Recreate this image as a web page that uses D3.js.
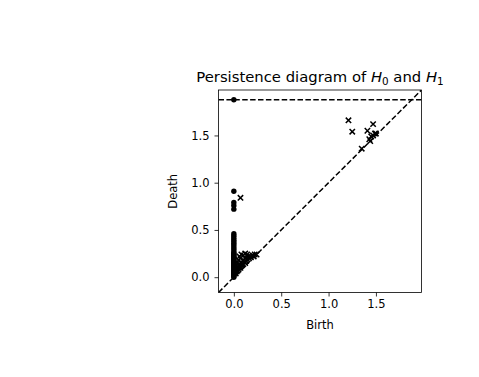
<!DOCTYPE html>
<html>
<head>
<meta charset="utf-8">
<script src="https://cdn.jsdelivr.net/npm/d3@7"></script>
<style>
  body { margin: 0; background: #fff; }
  svg { font-family: "DejaVu Sans", sans-serif; }
</style>
</head>
<body>
<div id="chart"></div>
<script>
// --- data ---
const h0Deaths = [0.00, 0.01, 0.02, 0.03, 0.04, 0.05, 0.06, 0.07, 0.08, 0.09, 0.10, 0.11, 0.12,
    0.13, 0.14, 0.15, 0.16, 0.17, 0.18, 0.19, 0.20, 0.21, 0.22, 0.23, 0.24, 0.25, 0.26, 0.28,
    0.30, 0.32, 0.34, 0.36, 0.38, 0.40, 0.42, 0.44, 0.46, 0.72, 0.76, 0.79, 0.91];
const h0InfiniteBirths = [0.0];
const infLevel = 1.878;

const h1Pairs = [
    [0.01, 0.05], [0.02, 0.04], [0.02, 0.09], [0.03, 0.06], [0.03, 0.12], [0.04, 0.07],
    [0.04, 0.15], [0.05, 0.08], [0.05, 0.10], [0.05, 0.18], [0.06, 0.12], [0.06, 0.22],
    [0.07, 0.10], [0.07, 0.20], [0.08, 0.12], [0.08, 0.15], [0.08, 0.24], [0.09, 0.13],
    [0.10, 0.14], [0.10, 0.18], [0.10, 0.23], [0.11, 0.16], [0.12, 0.15], [0.12, 0.20],
    [0.12, 0.25], [0.13, 0.17], [0.14, 0.19], [0.14, 0.24], [0.15, 0.22], [0.16, 0.20],
    [0.17, 0.22], [0.18, 0.21], [0.20, 0.23], [0.21, 0.22], [0.22, 0.24], [0.24, 0.24],
    [0.07, 0.84],
    [1.21, 1.66], [1.25, 1.54], [1.41, 1.55], [1.47, 1.62], [1.35, 1.36], [1.43, 1.46],
    [1.45, 1.49], [1.49, 1.52], [1.50, 1.52], [1.47, 1.50], [1.44, 1.44]
];

const xTicks = [0.0, 0.5, 1.0, 1.5];
const yTicks = [0.0, 0.5, 1.0, 1.5];
const axisDomain = [-0.162, 1.981];

// --- layout ---
const width = 479, height = 377;
const plot = { left: 218.5, right: 421.5, top: 90, bottom: 292.5 };

const svg = d3.select("#chart").append("svg")
    .attr("width", width)
    .attr("height", height);

const x = d3.scaleLinear().domain(axisDomain).range([plot.left, plot.right]);
const y = d3.scaleLinear().domain(axisDomain).range([plot.bottom, plot.top]);

svg.append("clipPath").attr("id", "clip")
    .append("rect")
    .attr("x", plot.left).attr("y", plot.top)
    .attr("width", plot.right - plot.left).attr("height", plot.bottom - plot.top);

const g = svg.append("g").attr("clip-path", "url(#clip)");

// diagonal and infinity line
g.append("line")
    .attr("x1", x(axisDomain[0])).attr("y1", y(axisDomain[0]))
    .attr("x2", x(axisDomain[1])).attr("y2", y(axisDomain[1]))
    .attr("stroke", "#000").attr("stroke-width", 1.5)
    .attr("stroke-dasharray", "5.5,2.4");

g.append("line")
    .attr("x1", x(axisDomain[0])).attr("y1", y(infLevel))
    .attr("x2", x(axisDomain[1])).attr("y2", y(infLevel))
    .attr("stroke", "#000").attr("stroke-width", 1.5)
    .attr("stroke-dasharray", "5.5,2.4");

// H1 crosses
const cs = 2.7;
g.selectAll(".h1").data(h1Pairs).enter().append("path")
    .attr("class", "h1")
    .attr("d", `M${-cs},${-cs}L${cs},${cs}M${-cs},${cs}L${cs},${-cs}`)
    .attr("transform", d => `translate(${x(d[0])},${y(d[1])})`)
    .attr("stroke", "#000").attr("stroke-width", 1.5).attr("fill", "none");

// H0 dots
g.selectAll(".h0").data(h0Deaths).enter().append("circle")
    .attr("class", "h0")
    .attr("cx", x(0)).attr("cy", d => y(d))
    .attr("r", 2.7).attr("fill", "#000");

g.selectAll(".h0inf").data(h0InfiniteBirths).enter().append("circle")
    .attr("class", "h0inf")
    .attr("cx", d => x(d)).attr("cy", y(infLevel))
    .attr("r", 2.7).attr("fill", "#000");

// frame
svg.append("rect")
    .attr("x", plot.left).attr("y", plot.top)
    .attr("width", plot.right - plot.left).attr("height", plot.bottom - plot.top)
    .attr("fill", "none").attr("stroke", "#000").attr("stroke-width", 0.8);

// axes
const xAxis = svg.append("g")
    .attr("transform", `translate(0,${plot.bottom})`)
    .call(d3.axisBottom(x).tickValues(xTicks).tickFormat(d3.format(".1f")).tickSize(4).tickPadding(3.5));
const yAxis = svg.append("g")
    .attr("transform", `translate(${plot.left},0)`)
    .call(d3.axisLeft(y).tickValues(yTicks).tickFormat(d3.format(".1f")).tickSize(4).tickPadding(5));

[xAxis, yAxis].forEach(a => {
    a.select(".domain").remove();
    a.selectAll(".tick line").attr("stroke", "#000").attr("stroke-width", 0.8);
    a.selectAll(".tick text").attr("font-size", 11.5).attr("font-family", "DejaVu Sans").attr("fill", "#000");
});

// labels
svg.append("text")
    .attr("x", (plot.left + plot.right) / 2).attr("y", 329)
    .attr("text-anchor", "middle").attr("font-size", 11.5).text("Birth");

svg.append("text")
    .attr("transform", `translate(177,${(plot.top + plot.bottom) / 2}) rotate(-90)`)
    .attr("text-anchor", "middle").attr("font-size", 11.5).text("Death");

const title = svg.append("text")
    .attr("x", (plot.left + plot.right) / 2).attr("y", 82)
    .attr("text-anchor", "middle").attr("font-size", 14.8);
title.append("tspan").text("Persistence diagram of ");
title.append("tspan").attr("font-style", "italic").text("H");
title.append("tspan").attr("font-size", 10.4).attr("dy", 2.5).text("0");
title.append("tspan").attr("dy", -2.5).text(" and ");
title.append("tspan").attr("font-style", "italic").text("H");
title.append("tspan").attr("font-size", 10.4).attr("dy", 2.5).text("1");
</script>
</body>
</html>
